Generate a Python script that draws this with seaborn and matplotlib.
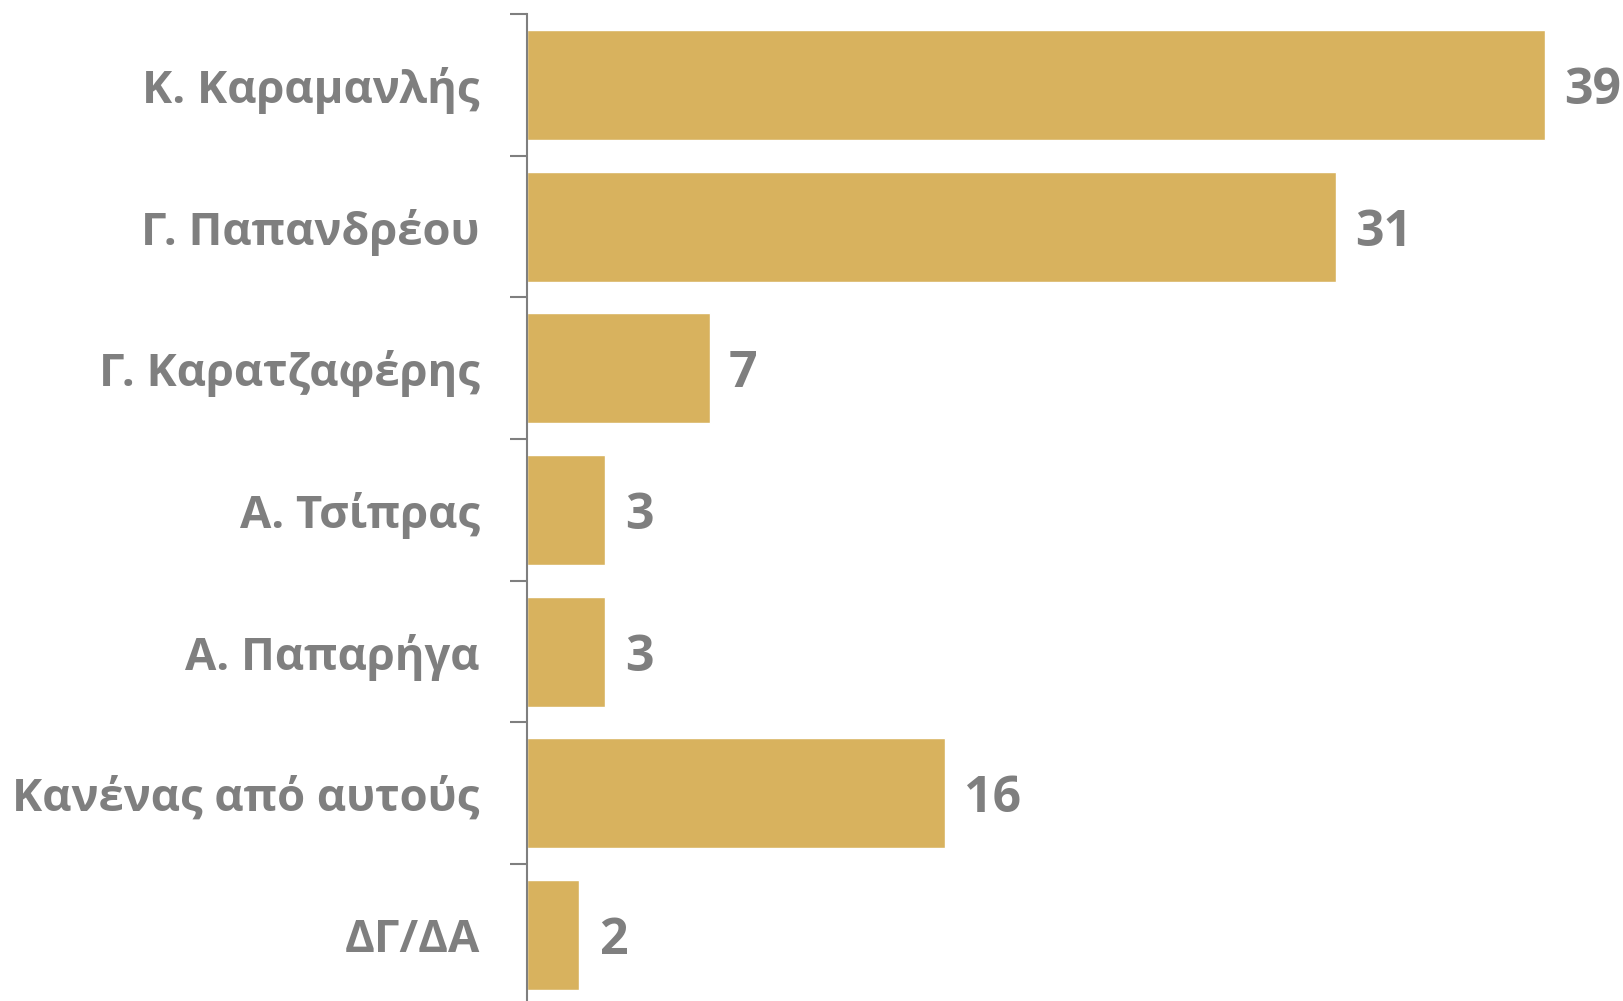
import matplotlib.pyplot as plt
import seaborn as sns

import numpy as np
import pandas as pd

CANDIDATES = [
    "Κ. Καραμανλής",
    "Γ. Παπανδρέου",
    "Γ. Καρατζαφέρης",
    "Α. Τσίπρας",
    "Α. Παπαρήγα",
    "Κανένας από αυτούς",
    "ΔΓ/ΔΑ",
]
VALUES = [39, 31, 7, 3, 3, 16, 2]

BAR_COLOR = "#D8B25E"
TEXT_COLOR = "#7F7F7F"

data = pd.DataFrame({"name": CANDIDATES, "value": VALUES})

sns.set_theme(style="white")
plt.rcParams["font.family"] = ["Open Sans", "DejaVu Sans"]

fig = plt.figure(figsize=(16.23, 10.01), dpi=100)
ax = fig.add_axes([527 / 1623, 0.0, 1 - 527 / 1623, 1 - 14 / 1001])

sns.barplot(data=data, x="value", y="name", orient="h", color=BAR_COLOR, width=0.776, saturation=1, ax=ax)

ax.set_xlim(0, 42)
ax.set_ylim(6.466, -0.5)
ax.set(xlabel="", ylabel="")
ax.set_xticks([])

for side in ["top", "right", "bottom"]:
    ax.spines[side].set_visible(False)
ax.spines["left"].set_color(TEXT_COLOR)
ax.spines["left"].set_linewidth(1.5)

# category separators as minor ticks
ax.set_yticks(np.arange(len(CANDIDATES)) - 0.5, minor=True)
ax.tick_params(axis="y", which="minor", left=True, length=12, width=1.5, color=TEXT_COLOR)
ax.tick_params(axis="y", which="major", left=False, length=0, pad=34)
for lbl in ax.get_yticklabels():
    lbl.set_fontsize(32.7)
    lbl.set_fontweight("bold")
    lbl.set_color(TEXT_COLOR)
    lbl.set_verticalalignment("center_baseline")

labels = ax.bar_label(ax.containers[0], padding=14, fontsize=36, fontweight="bold", color=TEXT_COLOR)
for t in labels:
    t.set_verticalalignment("center_baseline")

fig.savefig("out.png", dpi=100)
